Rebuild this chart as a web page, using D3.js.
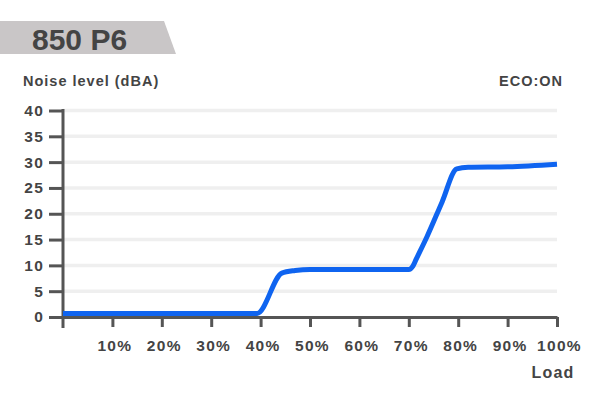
<!DOCTYPE html>
<html><head><meta charset="utf-8">
<script src="https://cdn.jsdelivr.net/npm/d3@7"></script>
<style>body{margin:0;background:#fff}svg{display:block}</style>
</head><body>
<script>
const loadPct = [0, 39.3, 44.3, 47, 50, 60, 70, 70.8, 71.5, 73.7, 76.7, 79.7, 82, 90, 100];
const noise   = [0.7, 0.7, 8.5, 9.0, 9.2, 9.2, 9.2, 9.8, 11.2, 15.6, 22.2, 28.7, 29.0, 29.1, 29.6];
const yTicks = [0, 5, 10, 15, 20, 25, 30, 35, 40];
const xTicks = [10, 20, 30, 40, 50, 60, 70, 80, 90, 100];
const title = "850 P6";

const W = 600, H = 402;
const font = "'Liberation Sans', Arial, Helvetica, sans-serif";
const svg = d3.select("body").append("svg").attr("width", W).attr("height", H);

const x = d3.scaleLinear().domain([0, 100]).range([63, 557]);
const y = d3.scaleLinear().domain([0, 40]).range([317, 110.5]);

// title banner
svg.append("polygon").attr("points", "0,21 164,21 176,54 0,54").attr("fill", "#c9c6c7");
svg.append("text").attr("x", 32).attr("y", 50).attr("font-family", font).attr("font-weight", "bold")
  .attr("font-size", 30).attr("fill", "#444").text(title);

svg.append("text").attr("x", 23).attr("y", 86).attr("font-family", font).attr("font-weight", "bold")
  .attr("font-size", 14.5).attr("letter-spacing", 1).attr("fill", "#444").text("Noise level (dBA)");
svg.append("text").attr("x", 563).attr("y", 86).attr("text-anchor", "end").attr("font-family", font).attr("font-weight", "bold")
  .attr("font-size", 14.5).attr("letter-spacing", 1).attr("fill", "#444").text("ECO:ON");

// gridlines
svg.append("g").selectAll("line").data(yTicks.filter(d => d > 0)).join("line")
  .attr("x1", x(0)).attr("x2", x(100)).attr("y1", d => y(d)).attr("y2", d => y(d))
  .attr("stroke", "#efefef").attr("stroke-width", 3.5);

// y axis
const yAxis = svg.append("g").attr("transform", `translate(${x(0)},0)`)
  .call(d3.axisLeft(y).tickValues(yTicks).tickSize(14).tickPadding(5).tickSizeOuter(0));
yAxis.select(".domain").remove();
yAxis.selectAll("line").attr("stroke", "#555").attr("stroke-width", 3);
yAxis.selectAll("text").attr("font-family", font).attr("font-weight", "bold").attr("font-size", 15.5)
  .attr("letter-spacing", 1.2).attr("fill", "#444");
svg.append("line").attr("x1", x(0)).attr("x2", x(0)).attr("y1", 109).attr("y2", 328)
  .attr("stroke", "#555").attr("stroke-width", 3);

// x axis
const xAxis = svg.append("g").attr("transform", `translate(0,${y(0)})`)
  .call(d3.axisBottom(x).tickValues(xTicks).tickSize(10).tickPadding(13).tickFormat(d => d + "%").tickSizeOuter(0));
xAxis.select(".domain").attr("stroke", "#555").attr("stroke-width", 3);
xAxis.selectAll("line").attr("stroke", "#555").attr("stroke-width", 3);
xAxis.selectAll("text").attr("font-family", font).attr("font-weight", "bold").attr("font-size", 15.5)
  .attr("letter-spacing", 1.3).attr("dx", 2).attr("fill", "#444");
svg.append("text").attr("x", 553).attr("y", 378).attr("text-anchor", "middle").attr("font-family", font).attr("font-weight", "bold")
  .attr("font-size", 16).attr("letter-spacing", 1.2).attr("fill", "#444").text("Load");

// line
const pts = loadPct.map((d, i) => [d, noise[i]]);
svg.append("path").datum(pts)
  .attr("d", d3.line().x(d => x(d[0])).y(d => y(d[1])).curve(d3.curveMonotoneX))
  .attr("fill", "none").attr("stroke", "#0f64f0").attr("stroke-width", 5).attr("stroke-linejoin", "round").attr("stroke-linecap", "butt");
</script>
</body></html>
